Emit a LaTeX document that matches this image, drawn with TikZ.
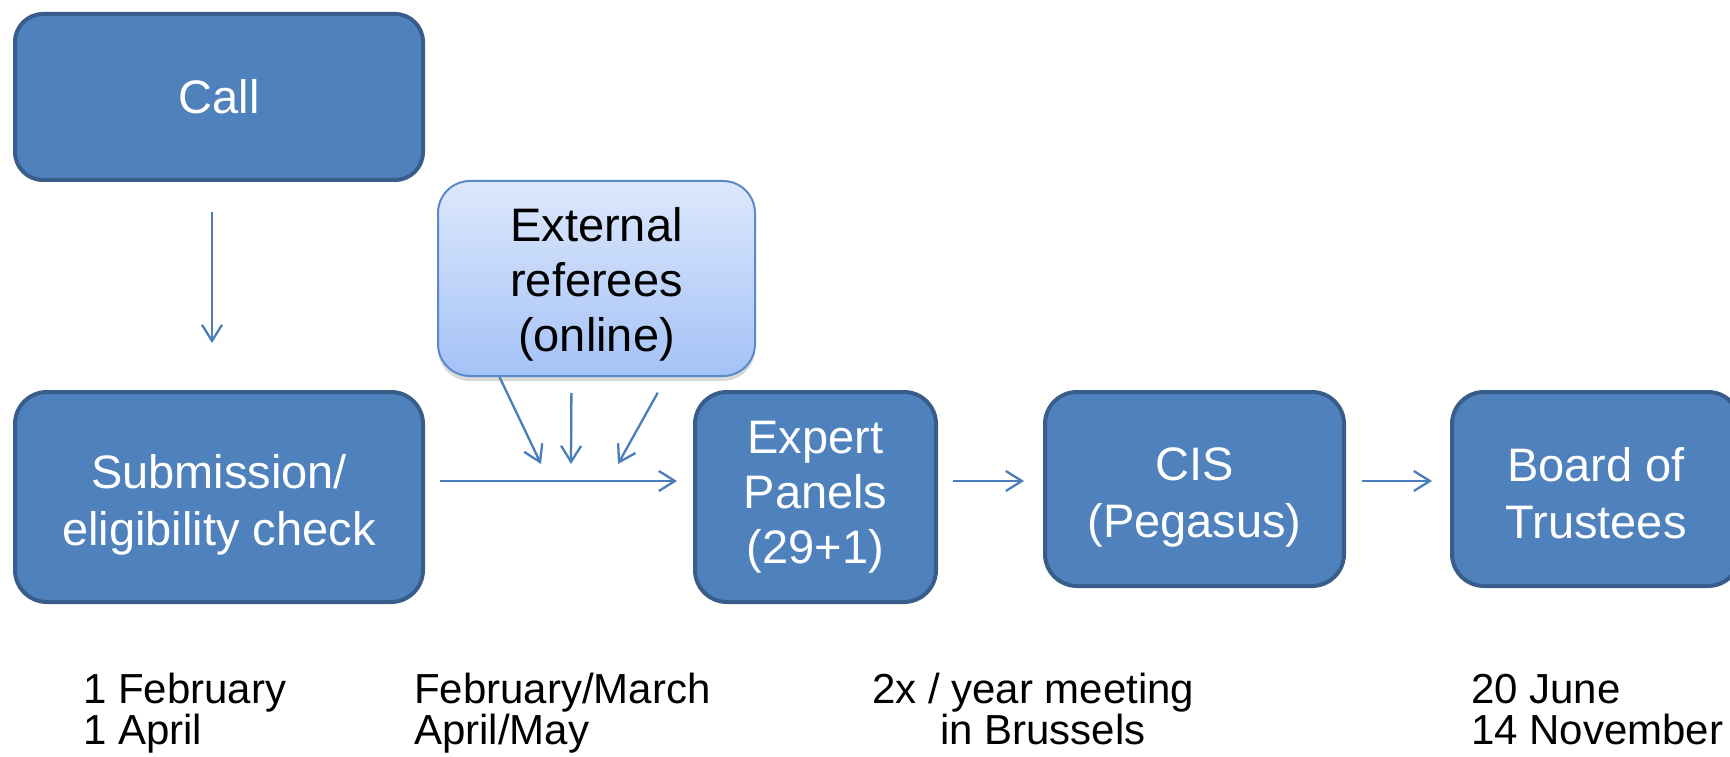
\documentclass[tikz,border=0pt]{standalone}
\usepackage{fontspec}
\setmainfont{Liberation Sans}
\usetikzlibrary{positioning, calc, arrows.meta, shadows}
\definecolor{boxfill}{HTML}{4F81BD}
\definecolor{boxline}{HTML}{385D8A}
\definecolor{arrowblue}{HTML}{4A7EBB}
\definecolor{reftop}{HTML}{DDE8FC}
\definecolor{refbot}{HTML}{A4C2F7}
\definecolor{refline}{HTML}{5B8AC8}
\tikzstyle{Box} = [
rectangle, rounded corners=32pt,
fill=boxfill, draw=boxline, line width=4pt,
text=white, align=center,
font=\fontsize{47}{57}\selectfont]
\tikzstyle{RefBox} = [
rectangle, rounded corners=32pt,
top color=reftop, bottom color=refbot, draw=refline, line width=2pt,
drop shadow={shadow xshift=0pt, shadow yshift=-5pt, opacity=0.3},
text=black, align=center,
font=\fontsize{47}{55}\selectfont]
\tikzstyle{Arrow} = [
draw=arrowblue, line width=2.3pt,
-{Straight Barb[length=16pt, width=20pt]}]
\tikzstyle{Date} = [anchor=base west, inner sep=0pt,
font=\fontsize{42}{42}\selectfont]

\begin{document}
\begin{tikzpicture}[x=1pt, y=-1pt]
    \useasboundingbox (0,0) rectangle (1730,757);

    \node[Box, minimum width=408pt, minimum height=166pt, rounded corners=28pt] (call) at (219,97) {Call};
    \node[Box, minimum width=408pt, minimum height=210pt] (sub) at (219,497)
        {\rule{0pt}{50pt}Submission/\\eligibility check};
    \node[RefBox, minimum width=317pt, minimum height=195pt] (ext) at (596.5,278.5)
        {\rule{0pt}{46pt}External\\referees\\(online)};
    \node[Box, minimum width=241pt, minimum height=210pt, font=\fontsize{47}{55}\selectfont] (exp) at (815.5,497)
        {Expert\\Panels\\(29+1)};
    \node[Box, minimum width=299pt, minimum height=194pt] (cis) at (1194.5,489)
        {\rule{0pt}{50pt}CIS\\(Pegasus)};
    \node[Box, minimum width=288pt, minimum height=194pt] (board) at (1596,489)
        {\rule{0pt}{42pt}Board of\\Trustees};

    \coordinate (in1) at (541,464);
    \coordinate (in2) at (571,464);
    \coordinate (in3) at (618,464);

    \draw[Arrow, shorten <=30pt, shorten >=47pt] ([xshift=-7pt]call.south) -- ([xshift=-7pt]sub.north);
    \draw[Arrow, shorten <=15pt, shorten >=16pt] ([yshift=16pt]sub.east) -- ([yshift=16pt]exp.west);
    \draw[Arrow, shorten <=15pt, shorten >=19pt] ([yshift=16pt]exp.east) -- ([yshift=8pt]cis.west);
    \draw[Arrow, shorten <=16pt, shorten >=18pt] ([yshift=8pt]cis.east) -- ([yshift=8pt]board.west);
    \draw[Arrow] ([xshift=-97pt]ext.south) -- (in1);
    \draw[Arrow, shorten <=16pt] ([xshift=-25pt]ext.south) -- (in2);
    \draw[Arrow, shorten <=18pt] ([xshift=70pt]ext.south) -- (in3);

    \node[Date] (feb) at (83,703) {1 February};
    \node[Date] (apr) at (83,744) {1 April};
    \node[Date] (febmar) at (414,703) {February/March};
    \node[Date] (aprmay) at (414,744) {April/May};
    \node[Date] (meet) at (872,703) {2x / year meeting};
    \node[Date] (bru) at (940,744) {in Brussels};
    \node[Date] (june) at (1471,703) {20 June};
    \node[Date] (nov) at (1471,744) {14 November};
\end{tikzpicture}
\end{document}
